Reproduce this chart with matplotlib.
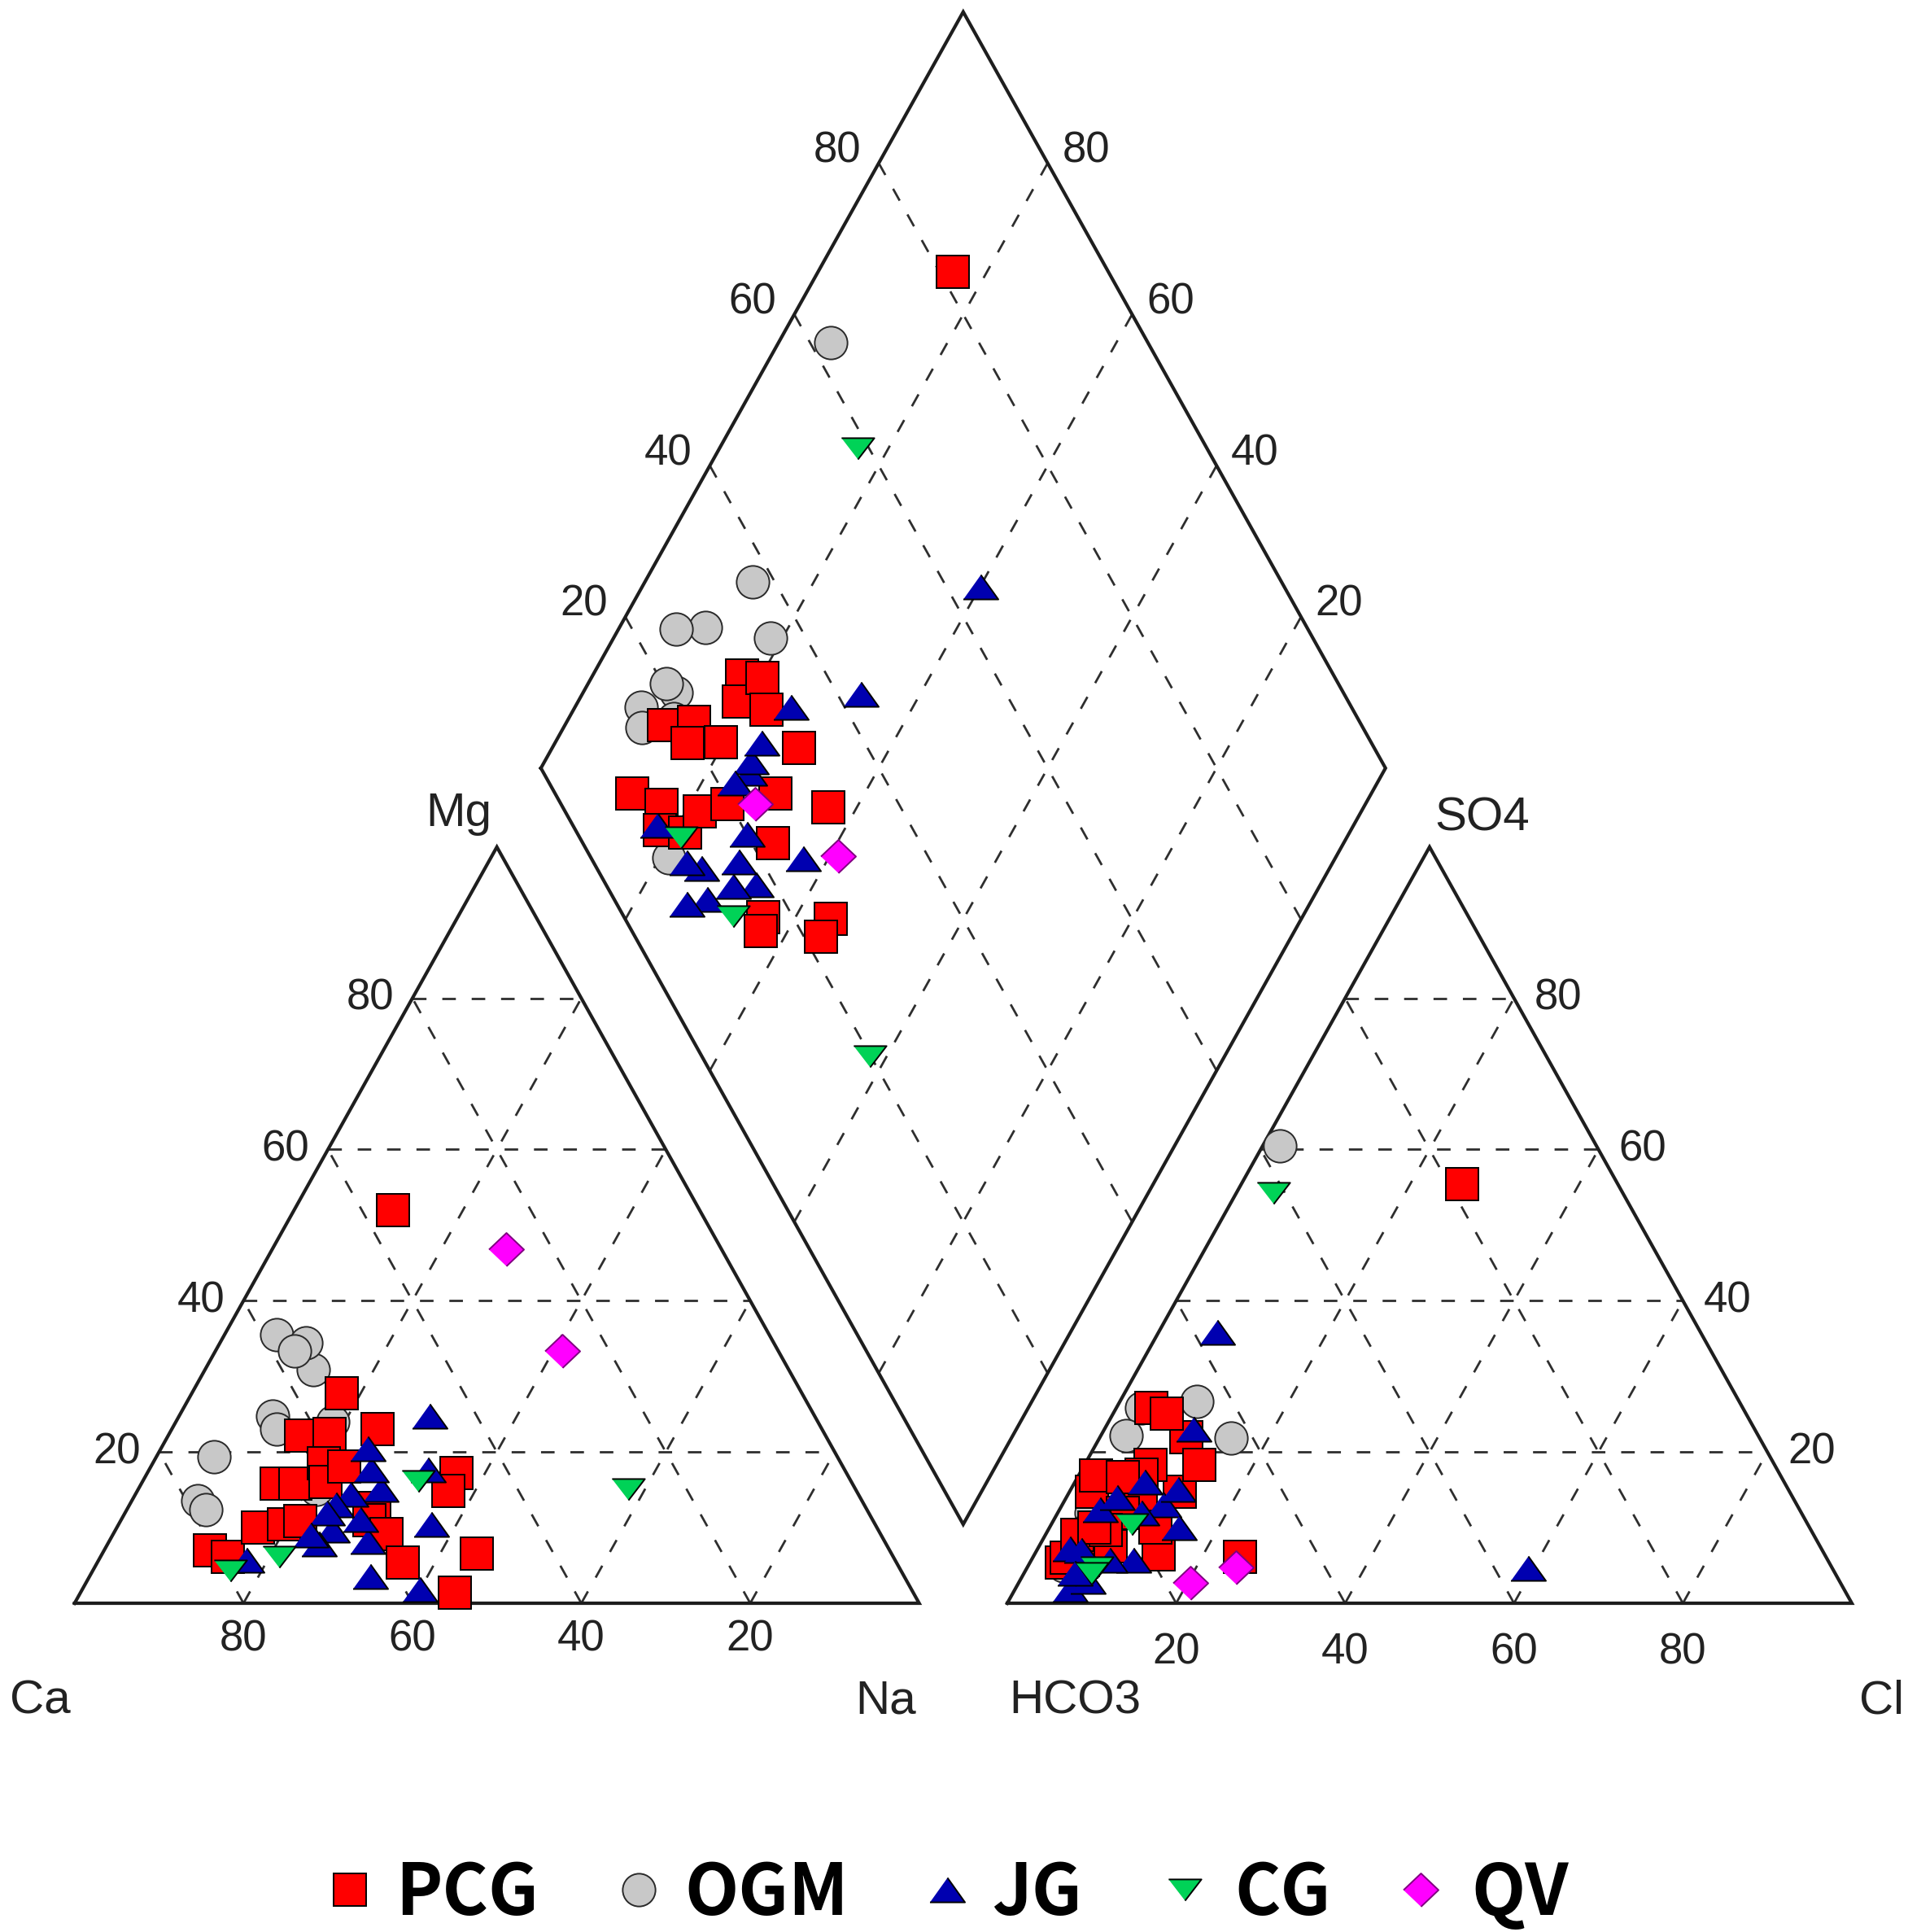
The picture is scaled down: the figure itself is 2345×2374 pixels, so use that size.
import numpy as np
import matplotlib
matplotlib.use('Agg')
import matplotlib.pyplot as plt
from matplotlib.lines import Line2D

plt.rcParams['font.family'] = ['Liberation Sans', 'DejaVu Sans']

# Piper diagram samples, % of meq/L. Ca = 100 - Na - Mg, HCO3 = 100 - Cl - SO4
pcg_na = [11.7, 12.5, 15.1, 15.7, 16.0, 16.7, 17.7, 18.2, 19.0, 19.6, 20.3, 21.3,
          21.7, 22.9, 24.4, 29.2, 29.4, 32.4, 36.2, 36.6, 36.8, 44.3, 44.3]
pcg_mg = [52.0, 7.0, 6.1, 22.2, 15.8, 10.0, 27.8, 15.8, 22.4, 10.4, 18.5, 10.9,
          16.0, 18.1, 23.0, 12.6, 11.0, 9.1, 5.4, 17.2, 14.9, 6.6, 1.4]
pcg_so4 = [14.7, 5.4, 6.5, 16.9, 55.4, 5.7, 25.8, 6.0, 14.7, 14.4, 22.0, 9.0,
           7.5, 6.1, 12.0, 18.3, 18.3, 10.0, 9.7, 25.1, 10.0, 17.0, 16.7]
pcg_cl = [2.7, 3.8, 14.7, 2.1, 26.2, 6.1, 4.2, 4.0, 13.1, 8.6, 10.2, 3.8,
          8.5, 24.5, 7.7, 13.6, 7.8, 12.5, 6.8, 6.3, 5.3, 7.4, 5.3]

ogm_na = [6.2, 12.8, 18.6, 10.2, 6.8, 11.0, 7.8, 9.3, 21.1, 9.3, 12.4]
ogm_mg = [35.5, 30.9, 24.0, 34.4, 19.4, 24.8, 13.6, 12.4, 15.1, 33.4, 23.0]
ogm_so4 = [60.5, 21.9, 26.7, 25.8, 22.2, 15.0, 12.0, 10.0, 5.0, 14.0, 13.0]
ogm_cl = [2.0, 15.5, 9.1, 3.0, 3.0, 6.0, 3.9, 4.7, 4.2, 6.5, 6.0]

jg_na = [40.0, 37.0, 33.0, 33.2, 30.6, 29.6, 28.7, 28.3, 26.3, 25.6, 25.5, 25.0,
         24.5, 24.5, 23.9, 23.5, 17.5]
jg_mg = [1.8, 10.4, 17.6, 3.6, 8.2, 24.8, 15.1, 11.1, 17.6, 9.7, 14.4, 7.9,
         20.4, 13.0, 12.0, 9.0, 5.7]
jg_so4 = [4.6, 13.0, 35.8, 5.7, 5.7, 12.4, 14.0, 7.2, 1.8, 7.0, 23.0, 16.0,
          10.0, 15.1, 12.0, 2.9, 4.0]
jg_cl = [59.4, 12.0, 7.0, 12.1, 9.3, 4.8, 6.0, 3.8, 6.5, 5.3, 10.6, 8.3,
         15.3, 12.7, 9.9, 8.1, 6.0]

cg_na = [16.3, 32.6, 58.0, 21.2]
cg_mg = [4.3, 16.1, 15.1, 6.1]
cg_so4 = [54.2, 4.7, 10.4, 4.0]
cg_cl = [4.4, 8.3, 9.5, 8.0]

qv_na = [27.7, 41.0]
qv_mg = [46.8, 33.4]
qv_so4 = [2.7, 4.7]
qv_cl = [20.3, 24.7]

groups = ['PCG', 'OGM', 'JG', 'CG', 'QV']
data = {
    'PCG': (pcg_na, pcg_mg, pcg_so4, pcg_cl),
    'OGM': (ogm_na, ogm_mg, ogm_so4, ogm_cl),
    'JG': (jg_na, jg_mg, jg_so4, jg_cl),
    'CG': (cg_na, cg_mg, cg_so4, cg_cl),
    'QV': (qv_na, qv_mg, qv_so4, qv_cl),
}
ticks = [20, 40, 60, 80]

H = np.sqrt(3) / 2
GAP = 0.1043
X2 = 1 + GAP  # left corner of the anion triangle


def cation_xy(na, mg):
    n = np.asarray(na) / 100
    m = np.asarray(mg) / 100
    return n + m / 2, m * H


def anion_xy(cl, so4):
    c = np.asarray(cl) / 100
    s = np.asarray(so4) / 100
    return X2 + c + s / 2, s * H


def dia(n, a):
    n = np.asarray(n)
    a = np.asarray(a)
    return (1 + GAP + a + n) / 2, H * (1 + GAP + a - n)


def diamond_xy(na, cl, so4):
    return dia(np.asarray(na) / 100, (np.asarray(cl) + np.asarray(so4)) / 100)


TRI_UP = [(-1, -0.7), (1, -0.7), (0, 0.7)]
TRI_DOWN = [(-1, 0.65), (1, 0.65), (0, -0.65)]
RHOMB = [(-1, 0), (0, 0.95), (1, 0), (0, -0.95)]
styles = {
    'PCG': dict(marker='s', ms=29, mfc='#ff0000', mec='#000000', zorder=4),
    'OGM': dict(marker='o', ms=29, mfc='#c8c8c8', mec='#2a2a2a', zorder=3),
    'JG': dict(marker=TRI_UP, ms=31, mfc='#0000b0', mec='#000000', zorder=5),
    'CG': dict(marker=TRI_DOWN, ms=29, mfc='#00d257', mec='#000000', zorder=6),
    'QV': dict(marker=RHOMB, ms=31, mfc='#ff00ff', mec='#800080', zorder=7),
}

fig = plt.figure(figsize=(23.45, 23.74), dpi=100)
ax = fig.add_axes([0, 0, 1, 1])
ax.set_xlim(-0.0883, 2.1708)
ax.set_ylim(-0.3765, 1.836)
ax.axis('off')

frame_kw = dict(color='#1e1e1e', lw=3.0, solid_joinstyle='miter', zorder=2)
grid_kw = dict(color='#2e2e2e', lw=2.0, ls=(0, (6, 7)), zorder=1)
tick_kw = dict(fontsize=38, color='#222222')
lab_kw = dict(fontsize=42, color='#222222')

# the two triangles
for x0 in (0, X2):
    ax.plot([x0, x0 + 1, x0 + 0.5, x0], [0, 0, H, 0], **frame_kw)
    for t in ticks:
        f = t / 100
        ax.plot([x0 + f / 2, x0 + 1 - f / 2], [f * H, f * H], **grid_kw)
        ax.plot([x0 + f, x0 + (1 + f) / 2], [0, (1 - f) * H], **grid_kw)
        ax.plot([x0 + f, x0 + f / 2], [0, f * H], **grid_kw)

# the diamond
dx, dy = dia([0, 1, 1, 0, 0], [0, 0, 1, 1, 0])
ax.plot(dx, dy, **frame_kw)
for t in ticks:
    f = t / 100
    gx, gy = dia([f, f], [0, 1])
    ax.plot(gx, gy, **grid_kw)
    gx, gy = dia([0, 1], [f, f])
    ax.plot(gx, gy, **grid_kw)

# tick labels
for t in ticks:
    f = t / 100
    ax.text(1 - f, -0.041, str(t), ha='center', va='center', **tick_kw)
    ax.text(f / 2 - 0.022, f * H, str(t), ha='right', va='center', **tick_kw)
    ax.text(X2 + f, -0.056, str(t), ha='center', va='center', **tick_kw)
    ax.text(X2 + 1 - f / 2 + 0.024, f * H, str(t), ha='left', va='center', **tick_kw)
    lx, ly = dia(0, f)
    ax.text(lx - 0.021, ly + 0.014, str(t), ha='right', va='center', **tick_kw)
    rx, ry = dia(1 - f, 1)
    ax.text(rx + 0.017, ry + 0.014, str(t), ha='left', va='center', **tick_kw)

# corner labels
ax.text(-0.077, -0.112, 'Ca', ha='left', va='center', **lab_kw)
ax.text(0.996, -0.112, 'Na', ha='right', va='center', **lab_kw)
ax.text(X2 + 0.002, -0.112, 'HCO3', ha='left', va='center', **lab_kw)
ax.text(2.113, -0.112, 'Cl', ha='left', va='center', **lab_kw)
ax.text(0.455, 0.890, 'Mg', ha='center', va='baseline', **lab_kw)
ax.text(1.667, 0.885, 'SO4', ha='center', va='baseline', **lab_kw)

# data points
for g in groups:
    na, mg, so4, cl = data[g]
    st = dict(styles[g])
    z = st.pop('zorder')
    for x, y in (cation_xy(na, mg), anion_xy(cl, so4), diamond_xy(na, cl, so4)):
        ax.plot(x, y, ls='none', mew=1.4, zorder=z, **st)

# legend row
leg_marker_px = [430, 785, 1164, 1456, 1746]
leg_text_px = [486, 841, 1219, 1517, 1808]
for g, mx, tx in zip(groups, leg_marker_px, leg_text_px):
    st = dict(styles[g])
    st.pop('zorder')
    fig.add_artist(Line2D([mx / 2345], [1 - 2322 / 2374], ls='none', mew=1.4,
                          transform=fig.transFigure, **st))
    fig.text(tx / 2345, 1 - 2353 / 2374, g, ha='left', va='baseline',
             fontsize=62, fontweight='bold',
             family=['Noto Sans CJK KR', 'DejaVu Sans'])

fig.savefig('out.png', dpi=100)
